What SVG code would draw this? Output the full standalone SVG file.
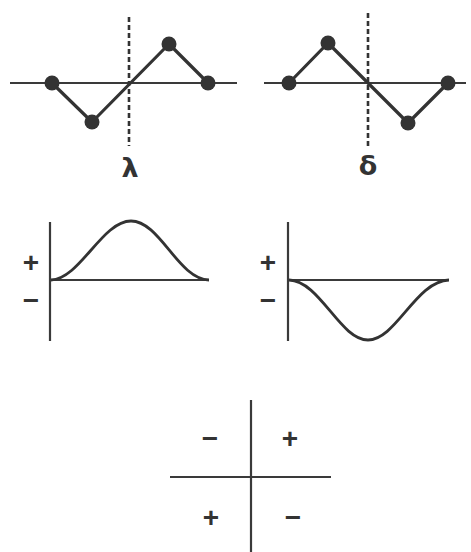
<svg xmlns="http://www.w3.org/2000/svg" width="471" height="552" viewBox="0 0 471 552">
<style>
.ax{stroke:#3a3a3a;stroke-width:2.2;fill:none}
.zz{stroke:#333;stroke-width:3.2;fill:none;stroke-linejoin:round}
.dash{stroke:#333;stroke-width:2.6;stroke-dasharray:5,3;fill:none}
.dot{fill:#333}
.cv{stroke:#333;stroke-width:2.8;fill:none}
.sg{font-family:"Liberation Sans",Arial,sans-serif;font-weight:bold;font-size:28px;fill:#333;text-anchor:middle}
.gr{font-family:"DejaVu Sans","Liberation Sans",sans-serif;font-weight:bold;font-size:27px;fill:#333;text-anchor:middle}
</style>
<g id="lambda">
<line class="ax" x1="10" y1="83" x2="237" y2="83"/>
<line class="dash" x1="129" y1="17" x2="129" y2="146"/>
<polyline class="zz" points="52,83 92,122 169,44 208,83"/>
<circle class="dot" cx="52" cy="83" r="7.5"/>
<circle class="dot" cx="92" cy="122" r="7.5"/>
<circle class="dot" cx="169" cy="44" r="7.5"/>
<circle class="dot" cx="208" cy="83" r="7.5"/>
<text class="gr" x="130" y="177">λ</text>
</g>
<g id="delta">
<line class="ax" x1="264" y1="83" x2="466" y2="83"/>
<line class="dash" x1="368" y1="13" x2="368" y2="146"/>
<polyline class="zz" points="289,83 328,43 408,123 448,83"/>
<circle class="dot" cx="289" cy="83" r="7.5"/>
<circle class="dot" cx="328" cy="43" r="7.5"/>
<circle class="dot" cx="408" cy="123" r="7.5"/>
<circle class="dot" cx="448" cy="83" r="7.5"/>
<text class="gr" x="368" y="175">δ</text>
</g>
<g id="plot-positive">
<line class="ax" x1="50" y1="222" x2="50" y2="341"/>
<line class="ax" x1="50" y1="280" x2="209" y2="280"/>
<path class="cv" d="M51,280 C80,279 102,221 131,221 C160,221 178,279 209,280"/>
<text class="sg" x="31" y="272">+</text>
<text class="sg" x="31" y="310">−</text>
</g>
<g id="plot-negative">
<line class="ax" x1="288" y1="222" x2="288" y2="341"/>
<line class="ax" x1="288" y1="280" x2="449" y2="280"/>
<path class="cv" d="M289,280 C320,281 340,340 368,340 C396,340 416,281 449,280"/>
<text class="sg" x="268" y="272">+</text>
<text class="sg" x="268" y="310">−</text>
</g>
<g id="quadrants">
<line class="ax" x1="251" y1="400" x2="251" y2="552"/>
<line class="ax" x1="170" y1="477" x2="331" y2="477"/>
<text class="sg" x="210" y="448">−</text>
<text class="sg" x="290" y="448">+</text>
<text class="sg" x="211" y="527">+</text>
<text class="sg" x="293" y="527">−</text>
</g>
</svg>
